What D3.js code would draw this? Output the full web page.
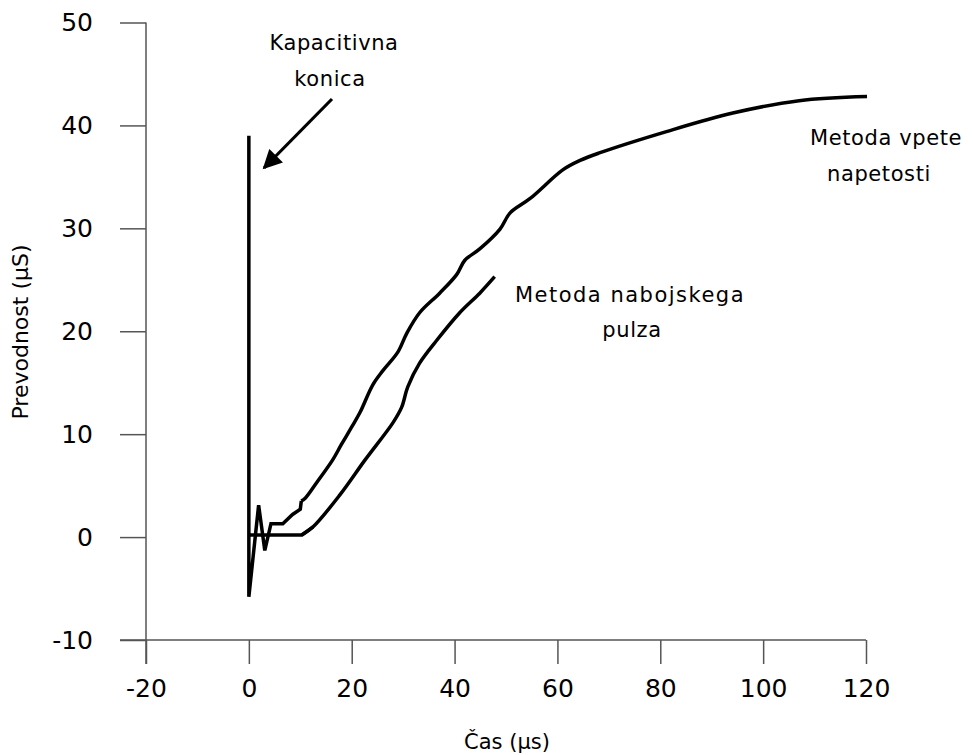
<!DOCTYPE html>
<html><head><meta charset="utf-8">
<script src="https://cdn.jsdelivr.net/npm/d3@7"></script>
<style>body{margin:0;background:#fff}svg{display:block}text{font-family:"DejaVu Sans",sans-serif;fill:#000}</style>
</head><body><svg id="c" width="973" height="755"></svg>
<script>
const xTicks = [-20, 0, 20, 40, 60, 80, 100, 120];
const yTicks = [-10, 0, 10, 20, 30, 40, 50];
// Metoda vpete napetosti (incl. capacitive spike)
const clampT = [0, 0, 1.9, 3.1, 4.3, 6.6, 8.5, 10, 10.2, 11, 13.2, 16.3, 18, 20, 21.6, 24.1, 26.1, 29, 30.7, 33.2, 37.1, 40.4, 42, 44.9, 48.8, 50.8, 54.7, 61.1, 64.4, 68, 81.2, 94.1, 107, 120.2];
const clampG = [39, -5.8, 3.1, -1.3, 1.3, 1.3, 2.2, 2.7, 3.5, 3.8, 5.3, 7.5, 9.0, 10.7, 12.1, 14.8, 16.2, 18.0, 19.8, 21.8, 23.7, 25.5, 26.9, 28.0, 29.9, 31.5, 32.9, 35.7, 36.6, 37.3, 39.4, 41.2, 42.4, 42.8];
// Metoda nabojskega pulza
const pulseT = [0, 10.3, 12.5, 17.7, 22.6, 28, 29.7, 30.9, 33.2, 36.5, 41, 44.9, 47.8];
const pulseG = [0.2, 0.2, 1.0, 4.1, 7.5, 11.1, 12.6, 14.6, 16.9, 19.1, 21.8, 23.7, 25.3];

const svg = d3.select("#c");
const x = d3.scaleLinear().domain([-20, 120]).range([146, 866]);
const y = d3.scaleLinear().domain([-10, 50]).range([640, 22.5]);
const axisColor = "#555";
const fmt = d => String(d).replace("\u2212", "-");

// axis lines (Excel style, crossing)
svg.append("line").attr("x1", x(-20)).attr("x2", x(-20)).attr("y1", y(50)).attr("y2", y(-10) + 24)
  .attr("stroke", axisColor).attr("stroke-width", 1.5);
svg.append("line").attr("x1", x(-20) - 26).attr("x2", x(120)).attr("y1", y(-10)).attr("y2", y(-10))
  .attr("stroke", axisColor).attr("stroke-width", 1.5);

const gy = svg.append("g").attr("transform", `translate(${x(-20)},0)`)
  .call(d3.axisLeft(y).tickValues(yTicks).tickFormat(fmt).tickSize(26).tickSizeOuter(0).tickPadding(27));
gy.select(".domain").remove();
gy.selectAll(".tick line").attr("stroke", axisColor).attr("stroke-width", 1.5);
gy.selectAll(".tick text").attr("font-size", 25).style("font-family", "DejaVu Sans");

const gx = svg.append("g").attr("transform", `translate(0,${y(-10)})`)
  .call(d3.axisBottom(x).tickValues(xTicks).tickFormat(fmt).tickSize(24).tickSizeOuter(0).tickPadding(15));
gx.select(".domain").remove();
gx.selectAll(".tick line").attr("stroke", axisColor).attr("stroke-width", 1.5);
gx.selectAll(".tick text").attr("font-size", 25).style("font-family", "DejaVu Sans");

// axis titles
svg.append("text").attr("transform", "translate(28,332) rotate(-90)").attr("text-anchor", "middle")
  .attr("font-size", 22).text("Prevodnost (μS)");
svg.append("text").attr("x", 507).attr("y", 749).attr("text-anchor", "middle")
  .attr("font-size", 21).text("Čas (μs)");

const lin = d3.line().x(d => x(d[0])).y(d => y(d[1]));
const smooth = d3.line().x(d => x(d[0])).y(d => y(d[1])).curve(d3.curveCatmullRom.alpha(0.5));
const pulse = pulseT.map((t, i) => [t, pulseG[i]]);
const clamp = clampT.map((t, i) => [t, clampG[i]]);
const style = p => p.attr("fill", "none").attr("stroke", "#000").attr("stroke-width", 3.5);
svg.append("path").attr("d", lin(pulse.slice(0, 3))).call(style);
svg.append("path").attr("d", smooth(pulse.slice(1))).call(style);
svg.append("path").attr("d", lin(clamp.slice(0, 9))).call(style).attr("stroke-linejoin", "miter");
svg.append("path").attr("d", smooth(clamp.slice(8))).call(style);

// annotation arrow
svg.append("defs").append("marker").attr("id", "ah").attr("viewBox", "0 0 10 10")
  .attr("refX", 9).attr("refY", 5).attr("markerWidth", 6.5).attr("markerHeight", 6)
  .attr("markerUnits", "strokeWidth").attr("orient", "auto")
  .append("path").attr("d", "M0,0 L10,5 L0,10 Z").attr("fill", "#000");
svg.append("line").attr("x1", 332).attr("y1", 99).attr("x2", 264).attr("y2", 168)
  .attr("stroke", "#000").attr("stroke-width", 3.2).attr("marker-end", "url(#ah)");

const labels = [
  ["Kapacitivna", 334, 50, "middle", 0.6], ["konica", 330, 86, "middle", 0.6],
  ["Metoda nabojskega", 630, 302, "middle", 1.5], ["pulza", 632, 337, "middle", 0.6],
  ["Metoda vpete", 810, 145, "start", 0.6], ["napetosti", 827, 181, "start", 0.6]
];
svg.selectAll("text.lab").data(labels).enter().append("text").attr("class", "lab")
  .attr("x", d => d[1]).attr("y", d => d[2]).attr("text-anchor", d => d[3])
  .attr("font-size", 21).attr("letter-spacing", d => d[4]).text(d => d[0]);
</script></body></html>
